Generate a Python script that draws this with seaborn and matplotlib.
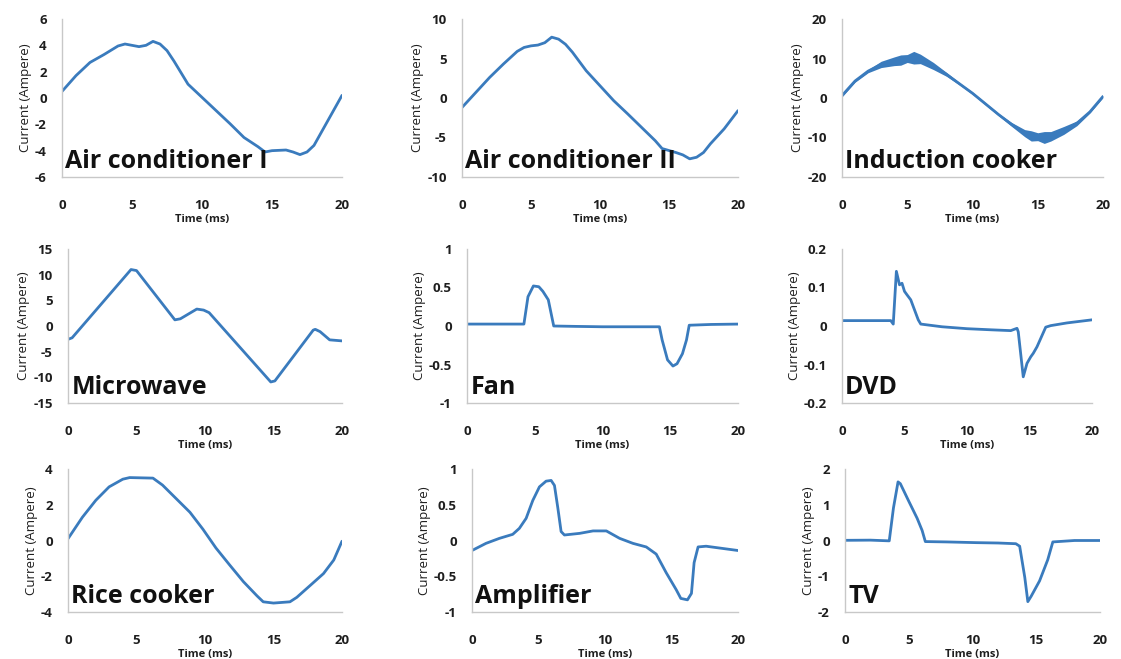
import matplotlib
matplotlib.use("Agg")
import matplotlib.pyplot as plt
import seaborn as sns
from matplotlib.ticker import FuncFormatter

# current waveforms, time in ms, current in A
names = ["Air conditioner I", "Air conditioner II", "Induction cooker",
         "Microwave", "Fan", "DVD",
         "Rice cooker", "Amplifier", "TV"]

ac1_t = [0, 1, 2, 3, 4, 4.5, 5, 5.5, 6, 6.5, 7, 7.5, 8, 9, 10, 11, 12, 13, 14,
         14.5, 15, 16, 16.5, 17, 17.5, 18, 19, 20]
ac1_i = [0.5, 1.7, 2.7, 3.3, 3.95, 4.1, 4.0, 3.9, 4.0, 4.3, 4.1, 3.6, 2.8, 1.05,
         0.05, -0.95, -1.95, -3.0, -3.7, -4.1, -4.0, -3.95, -4.1, -4.3, -4.1,
         -3.6, -1.7, 0.2]

ac2_t = [0, 1, 2, 3, 4, 4.5, 5, 5.5, 6, 6.5, 7, 7.5, 8, 9, 10, 11, 12, 13, 14,
         14.5, 15, 15.5, 16, 16.5, 17, 17.5, 18, 19, 20]
ac2_i = [-1.2, 0.7, 2.6, 4.3, 5.9, 6.4, 6.6, 6.7, 7.0, 7.7, 7.45, 6.8, 5.8, 3.45,
         1.55, -0.35, -2.0, -3.7, -5.4, -6.4, -6.65, -6.9, -7.2, -7.7, -7.5,
         -6.9, -5.8, -3.9, -1.6]

ind_t = [0, 1, 2, 3, 4, 4.5, 5, 5.5, 6, 7, 8, 9, 10, 11, 12, 13, 14, 14.5, 15,
         15.5, 16, 17, 18, 19, 20]
ind_i = [0.6, 4.3, 6.8, 8.5, 9.3, 9.6, 10.0, 10.2, 9.9, 8.1, 6.0, 3.6, 1.2,
         -1.5, -4.2, -6.7, -8.9, -9.6, -9.8, -10.0, -9.7, -8.2, -6.4, -3.5, 0.4]
ind_noise = [0.3, 0.3, 0.4, 0.8, 1.1, 1.3, 1.0, 1.6, 1.2, 0.9, 0.5, 0.3, 0.3,
             0.3, 0.3, 0.5, 0.9, 1.3, 1.0, 1.5, 1.2, 1.0, 0.6, 0.3, 0.3]

mw_t = [0, 0.3, 4.6, 5.0, 7.8, 8.2, 9.4, 9.9, 10.3, 14.8, 15.1, 17.9, 18.05,
        18.4, 19.1, 20]
mw_i = [-2.6, -2.3, 11.0, 10.8, 1.2, 1.4, 3.3, 3.1, 2.6, -10.9, -10.7, -0.8,
        -0.65, -1.1, -2.7, -2.9]

fan_t = [0, 2, 4.2, 4.5, 4.9, 5.3, 5.6, 6.0, 6.2, 6.4, 8, 10, 12, 14.2, 14.4,
         14.8, 15.2, 15.5, 15.9, 16.2, 16.4, 18, 20]
fan_i = [0.025, 0.025, 0.025, 0.38, 0.52, 0.51, 0.45, 0.34, 0.17, 0.0, -0.005,
         -0.01, -0.01, -0.01, -0.18, -0.44, -0.52, -0.49, -0.36, -0.18, 0.01,
         0.02, 0.025]

dvd_t = [0, 2, 3.9, 4.1, 4.35, 4.6, 4.8, 5.0, 5.2, 5.5, 6.1, 6.3, 8, 10, 12,
         13.5, 14.0, 14.1, 14.5, 14.8, 15.1, 15.3, 15.6, 16.3, 16.7, 18, 20]
dvd_i = [0.014, 0.014, 0.014, 0.005, 0.142, 0.107, 0.111, 0.09, 0.081, 0.068,
         0.016, 0.005, -0.002, -0.007, -0.01, -0.012, -0.006, -0.015, -0.132,
         -0.097, -0.08, -0.071, -0.054, -0.003, 0.001, 0.008, 0.016]

rice_t = [0, 1.05, 2.03, 3.0, 4.0, 4.5, 6.2, 6.9, 7.9, 8.9, 9.85, 10.8, 11.8,
          12.8, 13.8, 14.25, 15.0, 16.2, 16.7, 17.7, 18.65, 19.4, 20]
rice_i = [0.1, 1.3, 2.25, 3.0, 3.43, 3.52, 3.49, 3.1, 2.34, 1.58, 0.63, -0.42,
          -1.37, -2.3, -3.1, -3.43, -3.5, -3.43, -3.18, -2.5, -1.85, -1.09,
          -0.04]

amp_t = [0, 1.05, 2.06, 3.06, 3.56, 4.07, 4.57, 5.07, 5.57, 5.95, 6.2, 6.45,
         6.7, 6.95, 8.1, 9.1, 10.1, 11.1, 12.1, 13.1, 13.85, 14.6, 15.36, 15.7,
         16.2, 16.5, 16.7, 17.0, 17.6, 18.6, 20]
amp_i = [-0.14, -0.04, 0.03, 0.086, 0.17, 0.31, 0.56, 0.75, 0.83, 0.84, 0.77,
         0.46, 0.125, 0.077, 0.1, 0.134, 0.134, 0.03, -0.04, -0.09, -0.19,
         -0.45, -0.69, -0.81, -0.83, -0.74, -0.31, -0.09, -0.08, -0.105, -0.14]

tv_t = [0, 2, 3.47, 3.8, 4.16, 4.34, 5.0, 5.66, 6.05, 6.3, 8, 10.3, 12, 13.4,
        13.7, 14.1, 14.34, 14.6, 15.26, 15.9, 16.3, 18, 20]
tv_i = [0.005, 0.01, -0.01, 0.91, 1.64, 1.59, 1.1, 0.62, 0.28, -0.03, -0.04,
        -0.06, -0.07, -0.09, -0.16, -1.03, -1.71, -1.56, -1.13, -0.54, -0.04,
        0.0, 0.0]

series_t = [ac1_t, ac2_t, ind_t, mw_t, fan_t, dvd_t, rice_t, amp_t, tv_t]
series_i = [ac1_i, ac2_i, ind_i, mw_i, fan_i, dvd_i, rice_i, amp_i, tv_i]

y_ranges = [(-6, 6, 2), (-10, 10, 5), (-20, 20, 10),
            (-15, 15, 5), (-1, 1, 0.5), (-0.2, 0.2, 0.1),
            (-4, 4, 2), (-1, 1, 0.5), (-2, 2, 1)]
x_ticks = [0, 5, 10, 15, 20]

# axes boxes in pixels: left, right, top, bottom
W, H = 1121, 659
boxes = [(62, 342, 19, 177), (462, 738, 19, 177), (842, 1103, 19, 177),
         (68, 342, 249, 403), (467, 738, 249, 403), (842, 1092, 249, 403),
         (68, 342, 469, 612), (472, 738, 469, 612), (845, 1100, 469, 612)]

sns.set_theme(style="white")
plt.rcParams["font.family"] = ["Open Sans", "DejaVu Sans"]

blue = "#3a7bbd"
ink = "#1e1e1e"
fig = plt.figure(figsize=(W / 100, H / 100), dpi=100)


def num(v, pos):
    return f"{v:g}"


for k in range(9):
    l, r, t, b = boxes[k]
    ax = fig.add_axes([l / W, 1 - b / H, (r - l) / W, (b - t) / H])
    if k == 2:
        lo = [v - n for v, n in zip(ind_i, ind_noise)]
        hi = [v + n for v, n in zip(ind_i, ind_noise)]
        ax.fill_between(ind_t, lo, hi, color=blue, lw=0)
    sns.lineplot(x=series_t[k], y=series_i[k], ax=ax, color=blue, linewidth=2.0)
    ymin, ymax, step = y_ranges[k]
    ax.set_xlim(0, 20)
    ax.set_ylim(ymin, ymax)
    n = int(round((ymax - ymin) / step))
    ax.set_yticks([ymin + i * step for i in range(n + 1)])
    ax.set_xticks(x_ticks)
    ax.yaxis.set_major_formatter(FuncFormatter(num))
    for s in ["top", "right"]:
        ax.spines[s].set_visible(False)
    for s in ["left", "bottom"]:
        ax.spines[s].set_color("#c8c8c8")
        ax.spines[s].set_linewidth(1.0)
    ax.tick_params(axis="y", length=4, width=0.8, color="#c8c8c8", pad=7,
                   labelsize=9.5, labelcolor=ink)
    ax.tick_params(axis="x", length=0, pad=16, labelsize=9.5, labelcolor=ink)
    for lab in ax.get_xticklabels() + ax.get_yticklabels():
        lab.set_fontweight("bold")
    ax.set_xlabel("Time (ms)", fontsize=8, fontweight="bold", labelpad=1,
                  color=ink)
    ax.set_ylabel("Current (Ampere)", fontsize=9.5, labelpad=2, color=ink)
    ax.text(0.012, 0.02, names[k], transform=ax.transAxes, fontsize=18,
            fontweight="bold", color="#111111", va="bottom", ha="left")

fig.savefig("out.png", dpi=100)
